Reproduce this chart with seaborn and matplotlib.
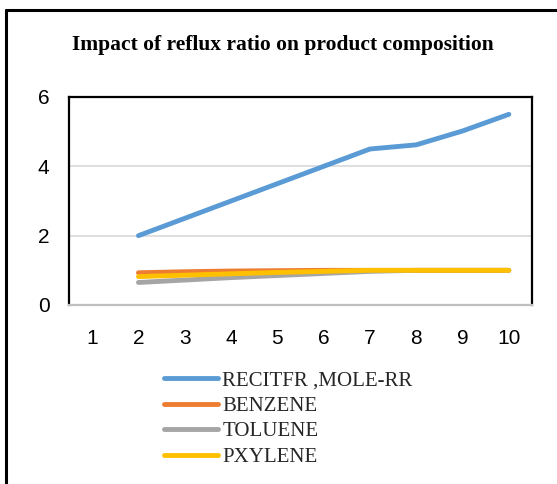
import numpy as np
import pandas as pd
import matplotlib
matplotlib.use("Agg")
import matplotlib.pyplot as plt
import seaborn as sns
from matplotlib.lines import Line2D

# Reflux ratio steps (x categories) and the four series
reflux_ratio = [1, 2, 3, 4, 5, 6, 7, 8, 9, 10]
recitfr_mole_rr = [np.nan, 2.0, 2.5, 3.0, 3.5, 4.0, 4.5, 4.62, 5.02, 5.5]
benzene = [np.nan, 0.93, 0.96, 0.98, 0.99, 1.0, 1.0, 1.0, 1.0, 1.0]
toluene = [np.nan, 0.65, 0.72, 0.79, 0.85, 0.91, 0.97, 1.0, 1.0, 1.0]
pxylene = [np.nan, 0.82, 0.86, 0.90, 0.94, 0.97, 1.0, 1.0, 1.0, 1.0]

series_names = ["RECITFR ,MOLE-RR", "BENZENE", "TOLUENE", "PXYLENE"]
series_values = [recitfr_mole_rr, benzene, toluene, pxylene]
colors = ["#5B9BD5", "#ED7D31", "#A5A5A5", "#FFC000"]
y_ticks = [0, 2, 4, 6]

frames = []
for name, vals in zip(series_names, series_values):
    frames.append(pd.DataFrame({"ratio": reflux_ratio, "value": vals, "series": name}))
df = pd.concat(frames, ignore_index=True).dropna()

sns.set_theme(style="white")
plt.rcParams["font.family"] = ["Liberation Sans", "DejaVu Sans"]

fig = plt.figure(figsize=(5.57, 4.84), dpi=100)
ax = fig.add_axes([69 / 557, 1 - 305 / 484, (532 - 69) / 557, (305 - 97) / 484])

sns.lineplot(data=df, x="ratio", y="value", hue="series", hue_order=series_names,
             palette=colors, linewidth=3.5, ax=ax, legend=False, sort=False)
for ln in ax.lines:
    ln.set_solid_capstyle("round")
    ln.set_solid_joinstyle("round")

ax.set_xlim(0.5, 10.5)
ax.set_ylim(0, 6)
ax.set_xticks(reflux_ratio)
ax.set_xticklabels([str(v) for v in reflux_ratio])
ax.set_yticks(y_ticks)
ax.set_yticklabels([str(v) for v in y_ticks])
ax.set_xlabel("")
ax.set_ylabel("")
ax.yaxis.grid(True, color="#D9D9D9", linewidth=1.2)
ax.set_axisbelow(True)
ax.tick_params(axis="x", length=0, pad=17, labelsize=15, colors="black")
ax.tick_params(axis="y", length=0, pad=14, labelsize=15, colors="black")

for side in ["left", "top", "right"]:
    ax.spines[side].set_color("black")
    ax.spines[side].set_linewidth(1.6)
ax.spines["bottom"].set_color("#BFBFBF")
ax.spines["bottom"].set_linewidth(1.6)

fig.text(283 / 557, 1 - 45 / 484, "Impact of reflux ratio on product composition",
         ha="center", va="center", fontsize=15.5, fontweight="bold",
         family="Liberation Serif", color="black")

handles = [Line2D([], [], color=c, linewidth=3.5, solid_capstyle="round") for c in colors]
leg = fig.legend(handles, series_names, loc="upper left",
                 bbox_to_anchor=(164 / 557, 1 - 371 / 484),
                 frameon=False, handlelength=2.6, handletextpad=0.2,
                 labelspacing=0.28, borderpad=0, borderaxespad=0,
                 prop={"family": "Liberation Serif", "size": 15})

# Outer chart frame (left and top edges)
fig.add_artist(Line2D([5.5 / 557, 5.5 / 557], [0, 1 - 9.5 / 484], color="black",
                      linewidth=2.2, transform=fig.transFigure))
fig.add_artist(Line2D([5.5 / 557, 1], [1 - 9.5 / 484, 1 - 9.5 / 484], color="black",
                      linewidth=2.2, transform=fig.transFigure))

fig.savefig("out.png", dpi=100)
